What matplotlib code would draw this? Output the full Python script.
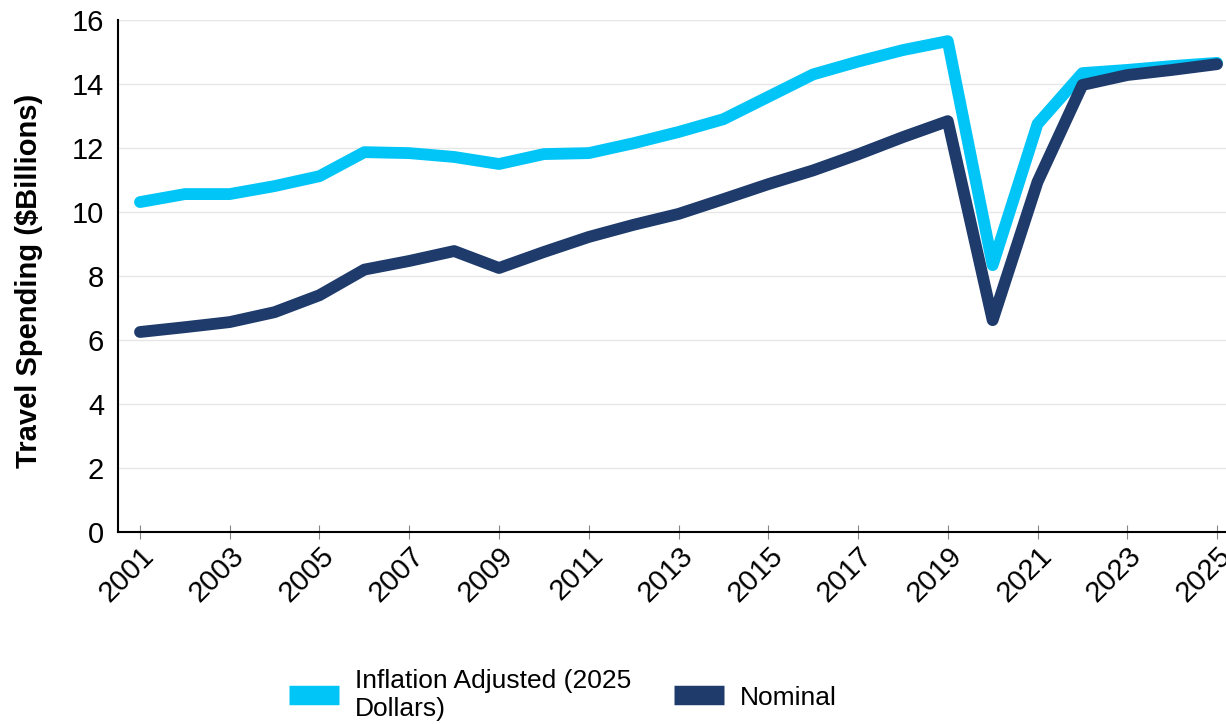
import matplotlib.pyplot as plt
import numpy as np
from matplotlib.lines import Line2D

plt.rcParams['font.family'] = ['Liberation Sans', 'DejaVu Sans']

years = list(range(2001, 2026))
inflation_adjusted = [10.31, 10.56, 10.56, 10.81, 11.12, 11.87, 11.84, 11.72, 11.50, 11.81,
                      11.84, 12.15, 12.50, 12.90, 13.60, 14.30, 14.70, 15.06, 15.34, 8.34,
                      12.75, 14.34, 14.44, 14.56, 14.66]
nominal = [6.25, 6.40, 6.56, 6.87, 7.40, 8.20, 8.47, 8.78, 8.25, 8.75,
           9.22, 9.60, 9.94, 10.40, 10.87, 11.30, 11.80, 12.34, 12.84, 6.62,
           10.94, 13.97, 14.28, 14.44, 14.62]
labels = ['Inflation Adjusted (2025\nDollars)', 'Nominal']
colors = ['#00C5F6', '#1E3B6C']

fig = plt.figure(figsize=(12.26, 7.24), dpi=100)
ax = fig.add_axes([118 / 1226, 192 / 724, 1 - 118 / 1226, 512 / 724])

for vals, c in zip([inflation_adjusted, nominal], colors):
    ax.plot(years, vals, color=c, lw=8.5, solid_capstyle='round', solid_joinstyle='round')

ax.set_ylim(0, 16)
ax.set_xlim(2000.51, 2025.2)
ax.set_yticks(np.arange(0, 17, 2))
ax.set_xticks(years[::2])
ax.set_xticklabels([str(y) for y in years[::2]], rotation=45, ha='right',
                   rotation_mode='anchor', fontsize=21)
ax.tick_params(axis='y', length=0, labelsize=21, pad=10)
ax.tick_params(axis='x', direction='inout', length=10, color='#888888', pad=2)
ax.grid(axis='y', color='#e6e6e6', lw=1)
ax.set_axisbelow(True)
for s in ['top', 'right']:
    ax.spines[s].set_visible(False)
for s in ['left', 'bottom']:
    ax.spines[s].set_linewidth(1.5)
ax.set_ylabel('Travel Spending ($Billions)', fontsize=21, fontweight='bold')
ax.yaxis.set_label_coords(-0.068, 0.49)

handles = [Line2D([], [], color=c, lw=14, solid_capstyle='butt') for c in colors]
fig.legend(handles, labels, loc='center', bbox_to_anchor=(0.459, 0.04), ncol=2,
           frameon=False, fontsize=19, handlelength=1.9, columnspacing=1.6,
           handletextpad=0.6, labelspacing=0)

fig.savefig('out.png', dpi=100)
